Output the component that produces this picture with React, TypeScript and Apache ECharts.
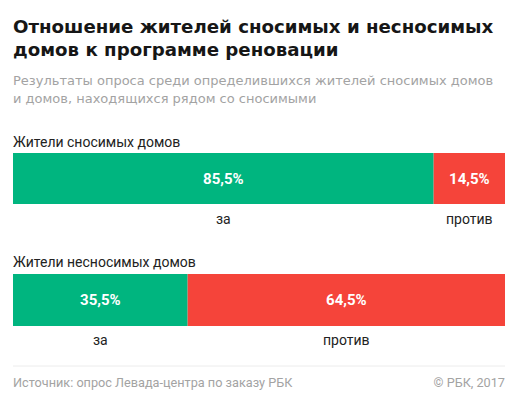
import React, { useEffect, useRef } from "react";
import * as echarts from "echarts";

const titleText = "Отношение жителей сносимых и несносимых\nдомов к программе реновации";
const subtitleText = "Результаты опроса среди определившихся жителей сносимых домов\nи домов, находящихся рядом со сносимыми";
const groups = ["Жители сносимых домов", "Жители несносимых домов"];
const answers = ["за", "против"];
const forValues = [85.5, 35.5];
const againstValues = [14.5, 64.5];
const sourceText = "Источник: опрос Левада-центра по заказу РБК";
const copyrightText = "© РБК, 2017";

const GREEN = "#00B57F";
const RED = "#F5443A";
const FONT = "Roboto, 'Noto Sans', sans-serif";
const WIDE = "'DejaVu Sans', 'Open Sans', sans-serif";

const fmt = (v: number) => v.toFixed(1).replace(".", ",") + "%";

export default function App() {
  const ref = useRef<HTMLDivElement>(null);
  useEffect(() => {
    if (!ref.current) return;
    const chart = echarts.init(ref.current, null, { renderer: "svg" });
    const gridTops = [153, 274];
    const gridHeights = [51, 52];
    const labelTops = [134, 254];

    const grids = groups.map((_, i) => ({
      left: 13,
      right: 15,
      top: gridTops[i],
      height: gridHeights[i],
      containLabel: false,
    }));
    const xAxes = groups.map((_, i) => ({
      type: "value" as const,
      gridIndex: i,
      min: 0,
      max: 100,
      show: false,
    }));
    const yAxes = groups.map((g, i) => ({
      type: "category" as const,
      gridIndex: i,
      data: [g],
      show: false,
    }));

    const label = {
      show: true,
      position: "inside",
      formatter: (p: any) => `{pad| }\n{v|${fmt(p.value)}}\n{c|${p.seriesName}}`,
      rich: {
        pad: { lineHeight: 40, fontSize: 14 },
        v: { lineHeight: 40, fontSize: 15, fontWeight: "bold", color: "#fff", fontFamily: FONT },
        c: { lineHeight: 40, fontSize: 14, color: "#222", fontFamily: FONT },
      },
    };

    const series: any[] = [];
    groups.forEach((g, i) => {
      const vals = [forValues[i], againstValues[i]];
      answers.forEach((a, j) => {
        series.push({
          type: "bar",
          name: a,
          xAxisIndex: i,
          yAxisIndex: i,
          stack: "s" + i,
          barWidth: "100%",
          data: [vals[j]],
          itemStyle: { color: j === 0 ? GREEN : RED },
          label,
          emphasis: { disabled: true },
        });
      });
    });

    const titles: any[] = [
      {
        text: titleText,
        left: 13,
        top: 14.5,
        textStyle: { fontFamily: WIDE, fontSize: 18.2, fontWeight: "bold", color: "#161616", lineHeight: 23 },
      },
      {
        text: subtitleText,
        left: 13,
        top: 72,
        textStyle: { fontFamily: WIDE, fontSize: 13, fontWeight: "normal", color: "#a3a3a3", lineHeight: 17.4 },
      },
      ...groups.map((g, i) => ({
        text: g,
        left: 13,
        top: labelTops[i],
        textStyle: { fontFamily: FONT, fontSize: 14, fontWeight: "normal", color: "#222", lineHeight: 16 },
      })),
      {
        text: sourceText,
        left: 13,
        top: 374,
        textStyle: { fontFamily: FONT, fontSize: 12.7, fontWeight: "normal", color: "#a3a3a3", lineHeight: 16 },
      },
      {
        text: copyrightText,
        right: 15,
        top: 374,
        textStyle: { fontFamily: FONT, fontSize: 12.7, fontWeight: "normal", color: "#a3a3a3", lineHeight: 16 },
      },
    ];
    titles.forEach((t) => (t.padding = 0));

    chart.setOption({
      animation: false,
      backgroundColor: "#fff",
      title: titles,
      grid: grids,
      xAxis: xAxes,
      yAxis: yAxes,
      series,
      graphic: [
        {
          type: "line",
          shape: { x1: 13, y1: 366, x2: 505, y2: 366 },
          style: { stroke: "#ececec", lineWidth: 1 },
        },
      ],
    });
    return () => chart.dispose();
  }, []);
  return <div ref={ref} style={{ width: 520, height: 399, margin: -8 }} />;
}
